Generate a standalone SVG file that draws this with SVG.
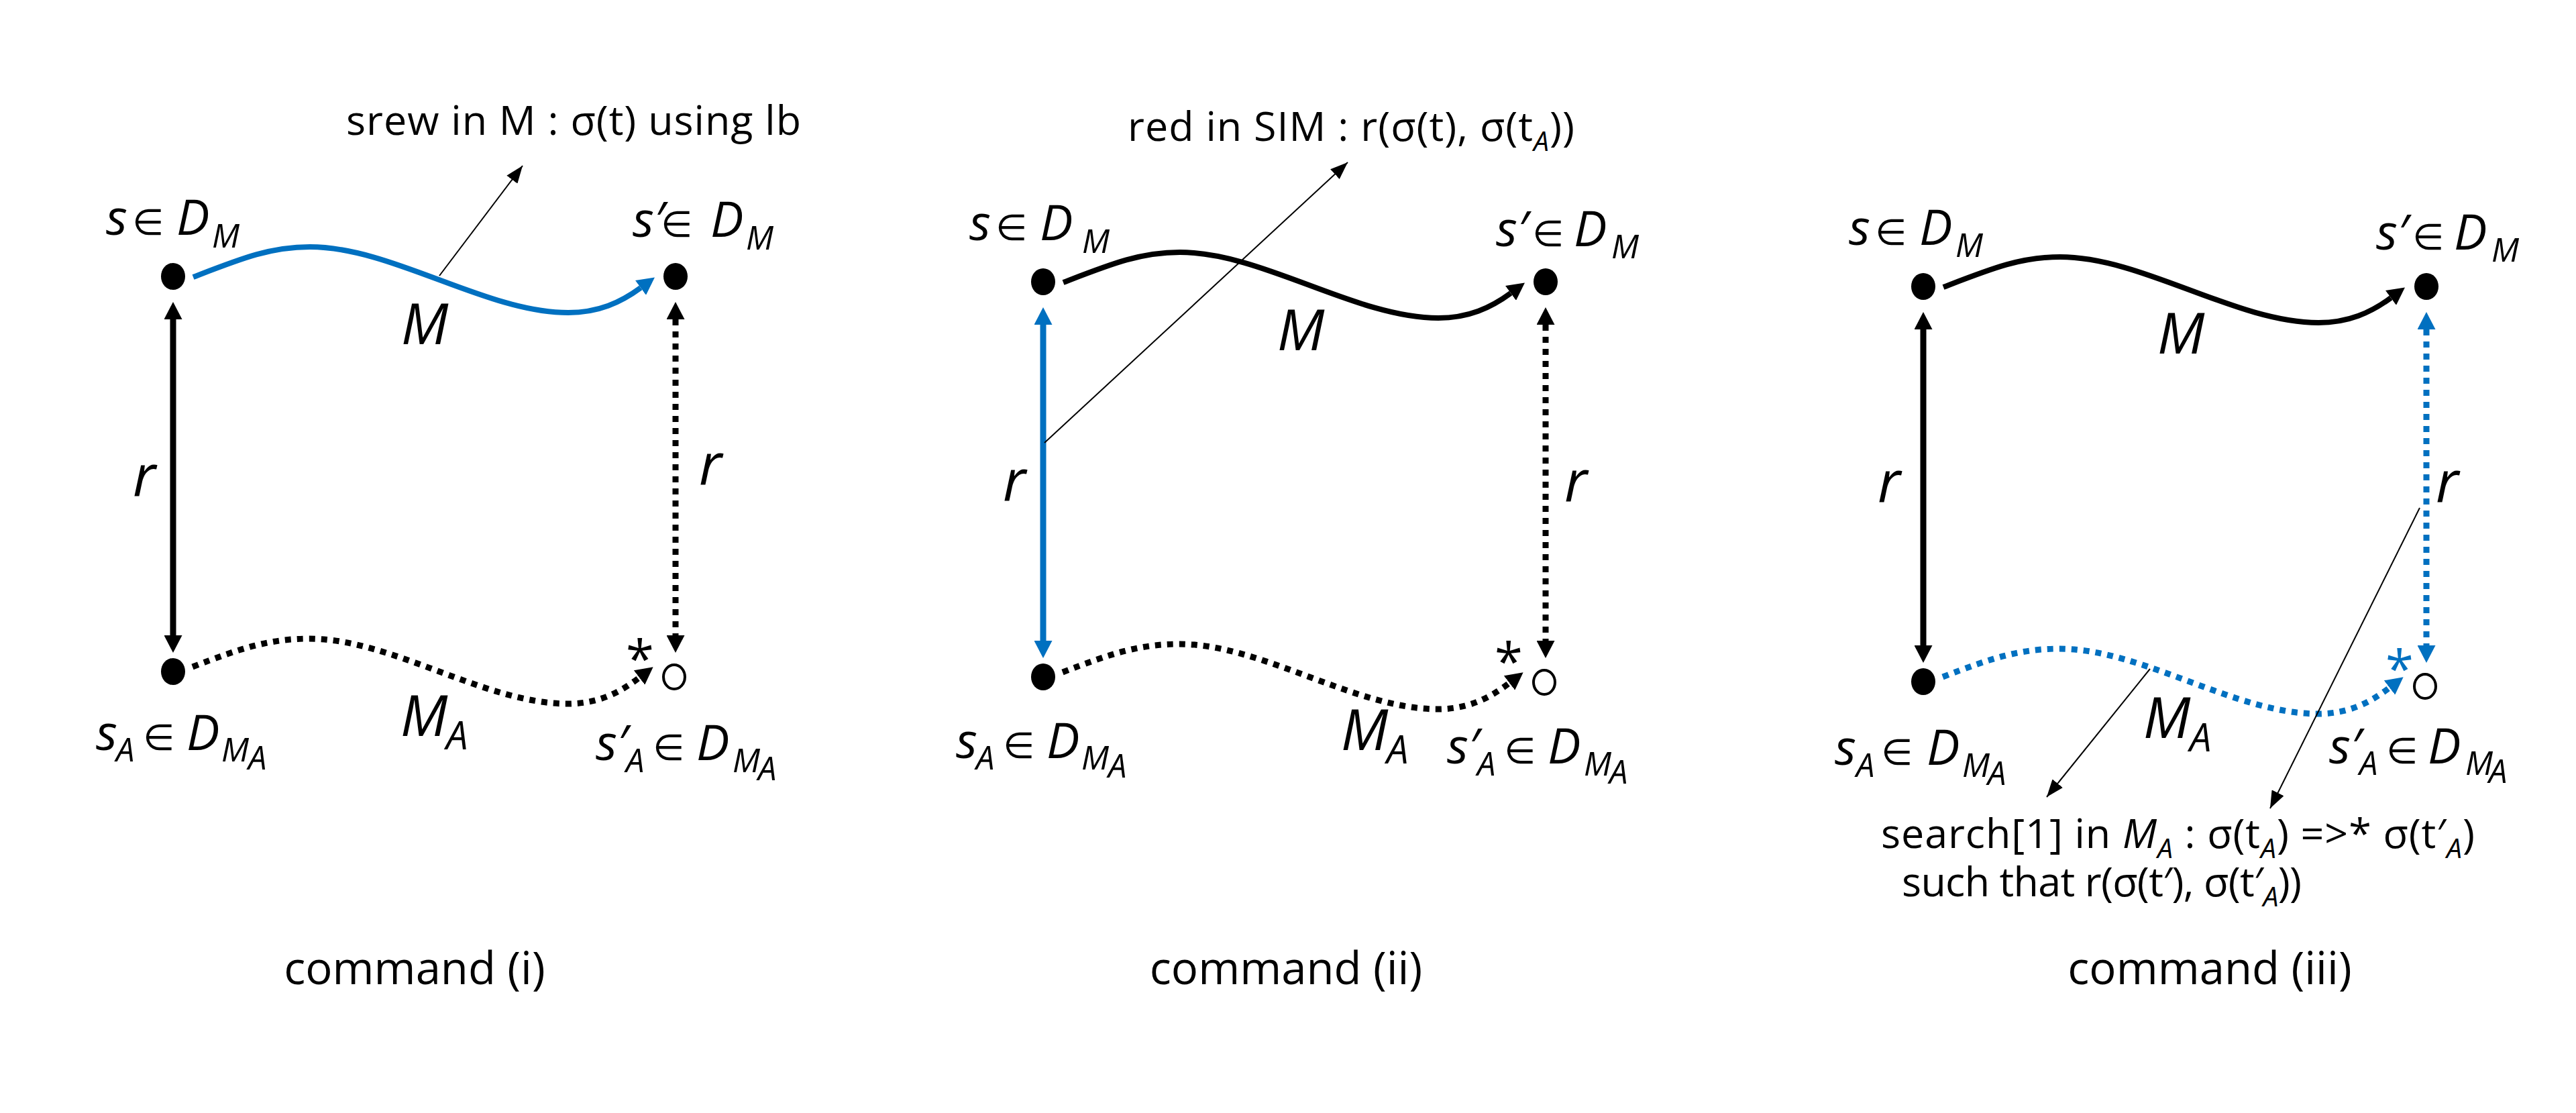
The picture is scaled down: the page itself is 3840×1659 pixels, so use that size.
<svg xmlns="http://www.w3.org/2000/svg" width="3840" height="1659" viewBox="0 0 3840 1659">
<style>
.dot{fill:#000}
.open{fill:#fff;stroke:#000;stroke-width:4}
.ln{fill:none;stroke:#000;stroke-width:9}
.cv{fill:none;stroke:#000;stroke-width:8}
.dt{fill:none;stroke:#000;stroke-width:9;stroke-dasharray:9 9}
.b{stroke:#0070C0}
.ann{fill:none;stroke:#000;stroke-width:2}
text{font-family:"Open Sans","Noto Sans","DejaVu Sans",sans-serif;fill:#000}
.m{font-style:italic;font-size:74px}
.e{font-family:"DejaVu Sans",sans-serif;font-size:54px}
.s{font-size:49px}
.big{font-style:italic;font-size:84px}
.bs{font-size:58px}
.r{font-style:italic;font-size:86px}
.star{font-size:76px}
.note{font-size:61px}
.it{font-style:italic}
.ns{font-style:italic;font-size:41px}
.cmd{font-size:67px}
.bt{fill:#0070C0}
</style>
<defs>
<marker id="ah" markerUnits="userSpaceOnUse" markerWidth="26" markerHeight="27" refX="0" refY="13.5" orient="auto-start-reverse" viewBox="0 0 26 27"><path d="M0,0L26,13.5L0,27z" fill="#000"/></marker>
<marker id="ahb" markerUnits="userSpaceOnUse" markerWidth="26" markerHeight="27" refX="0" refY="13.5" orient="auto-start-reverse" viewBox="0 0 26 27"><path d="M0,0L26,13.5L0,27z" fill="#0070C0"/></marker>
<marker id="at" markerUnits="userSpaceOnUse" markerWidth="26" markerHeight="20" refX="26" refY="10" orient="auto" viewBox="0 0 26 20"><path d="M0,0L26,10L0,20z" fill="#000"/></marker>
</defs>
<rect width="3840" height="1659" fill="#fff"/>

<!-- Panel 1 -->
<g id="panel1">
<g id="p1-connectors">
<path class="cv b" d="M288,413 C358,386 402,368 462,368 C585,368 724,466 847,466 C892,466 925,451 955,429" marker-end="url(#ahb)"/>
<path class="dt" d="M287,994 C357,967 401,952 461,952 C584,952 723,1049 846,1049 C891,1049 923,1033 953,1010" marker-end="url(#ah)"/>
<path class="ln" d="M258,476 V947" marker-start="url(#ah)" marker-end="url(#ah)"/>
<path class="dt" d="M1007,476 V947" marker-start="url(#ah)" marker-end="url(#ah)"/>
<path class="ann" d="M655,411 L779,247" marker-end="url(#at)"/>
</g>
<g id="p1-s"><ellipse class="dot" cx="258" cy="412" rx="18" ry="20"/><text class="m" x="158" y="350">s<tspan class="e" x="197">∈</tspan><tspan x="263">D</tspan><tspan class="s" x="316" y="369">M</tspan></text></g>
<g id="p1-s2"><ellipse class="dot" cx="1007" cy="412" rx="18" ry="20"/><text class="m" x="943" y="353">s′<tspan class="e" x="985">∈</tspan><tspan x="1059">D</tspan><tspan class="s" x="1112" y="372">M</tspan></text></g>
<g id="p1-sA"><ellipse class="dot" cx="258" cy="1001" rx="18" ry="20"/><text class="m" x="143" y="1118">s<tspan class="s" x="173" y="1135">A</tspan><tspan class="e" x="213" y="1118">∈</tspan><tspan x="278">D</tspan><tspan class="s" x="330" y="1135">M</tspan><tspan class="s" x="370" y="1147">A</tspan></text></g>
<g id="p1-sA2"><ellipse class="open" cx="1005" cy="1009" rx="16" ry="18"/><text class="star" x="933" y="1010">*</text><text class="m" x="888" y="1133">s′<tspan class="s" x="933" y="1151">A</tspan><tspan class="e" x="973" y="1133">∈</tspan><tspan x="1038">D</tspan><tspan class="s" x="1092" y="1151">M</tspan><tspan class="s" x="1130" y="1163">A</tspan></text></g>
<g id="p1-labels">
<text class="big" x="598" y="513">M</text>
<text class="big" x="597" y="1097">M<tspan class="bs" x="665" y="1117">A</tspan></text>
<text class="r" x="198" y="740">r</text>
<text class="r" x="1042" y="723">r</text>
<text class="note" x="516" y="201" textLength="678" lengthAdjust="spacing">srew in M : σ(t) using lb</text>
</g>
</g>

<!-- Panel 2 -->
<g id="panel2" transform="translate(1297,8)">
<g id="p2-connectors">
<path class="cv" d="M288,413 C358,386 402,368 462,368 C585,368 724,466 847,466 C892,466 925,451 955,429" marker-end="url(#ah)"/>
<path class="dt" d="M287,994 C357,967 401,952 461,952 C584,952 723,1049 846,1049 C891,1049 923,1033 953,1010" marker-end="url(#ah)"/>
<path class="ln b" d="M258,476 V947" marker-start="url(#ahb)" marker-end="url(#ahb)"/>
<path class="dt" d="M1007,476 V947" marker-start="url(#ah)" marker-end="url(#ah)"/>
<path class="ann" d="M260,652 L712,234" marker-end="url(#at)"/>
</g>
<g id="p2-s"><ellipse class="dot" cx="258" cy="412" rx="18" ry="20"/><text class="m" x="148" y="350">s<tspan class="e" x="187">∈</tspan><tspan x="253">D</tspan><tspan class="s" x="316" y="369">M</tspan></text></g>
<g id="p2-s2"><ellipse class="dot" cx="1007" cy="412" rx="18" ry="20"/><text class="m" x="933" y="359">s′<tspan class="e" x="987">∈</tspan><tspan x="1049">D</tspan><tspan class="s" x="1105" y="377">M</tspan></text></g>
<g id="p2-sA"><ellipse class="dot" cx="258" cy="1001" rx="18" ry="20"/><text class="m" x="128" y="1122">s<tspan class="s" x="158" y="1139">A</tspan><tspan class="e" x="198" y="1122">∈</tspan><tspan x="263">D</tspan><tspan class="s" x="315" y="1139">M</tspan><tspan class="s" x="355" y="1151">A</tspan></text></g>
<g id="p2-sA2"><ellipse class="open" cx="1005" cy="1009" rx="16" ry="18"/><text class="star" x="931" y="1006">*</text><text class="m" x="860" y="1130">s′<tspan class="s" x="905" y="1148">A</tspan><tspan class="e" x="945" y="1130">∈</tspan><tspan x="1010">D</tspan><tspan class="s" x="1064" y="1148">M</tspan><tspan class="s" x="1102" y="1160">A</tspan></text></g>
<g id="p2-labels">
<text class="big" x="607" y="514">M</text>
<text class="big" x="702" y="1110">M<tspan class="bs" x="770" y="1130">A</tspan></text>
<text class="r" x="198" y="739">r</text>
<text class="r" x="1035" y="740">r</text>
<text class="note" x="384" y="202" textLength="666" lengthAdjust="spacing">red in SIM : r(σ(t), σ(t<tspan class="ns" dy="15">A</tspan><tspan dy="-15">))</tspan></text>
</g>
</g>

<!-- Panel 3 -->
<g id="panel3" transform="translate(2609,15)">
<g id="p3-connectors">
<path class="cv" d="M288,413 C358,386 402,368 462,368 C585,368 724,466 847,466 C892,466 925,451 955,429" marker-end="url(#ah)"/>
<path class="dt b" d="M287,994 C357,967 401,952 461,952 C584,952 723,1049 846,1049 C891,1049 923,1033 953,1010" marker-end="url(#ahb)"/>
<path class="ln" d="M258,476 V947" marker-start="url(#ah)" marker-end="url(#ah)"/>
<path class="dt b" d="M1008,476 V947" marker-start="url(#ahb)" marker-end="url(#ahb)"/>
<path class="ann" d="M596,982 L442,1173" marker-end="url(#at)"/>
<path class="ann" d="M998,742 L775,1190" marker-end="url(#at)"/>
</g>
<g id="p3-s"><ellipse class="dot" cx="258" cy="412" rx="18" ry="20"/><text class="m" x="147" y="350">s<tspan class="e" x="186">∈</tspan><tspan x="252">D</tspan><tspan class="s" x="306" y="368">M</tspan></text></g>
<g id="p3-s2"><ellipse class="dot" cx="1008" cy="412" rx="18" ry="20"/><text class="m" x="933" y="357">s′<tspan class="e" x="987">∈</tspan><tspan x="1049">D</tspan><tspan class="s" x="1105" y="375">M</tspan></text></g>
<g id="p3-sA"><ellipse class="dot" cx="258" cy="1001" rx="18" ry="20"/><text class="m" x="126" y="1125">s<tspan class="s" x="158" y="1143">A</tspan><tspan class="e" x="195" y="1125">∈</tspan><tspan x="263">D</tspan><tspan class="s" x="316" y="1143">M</tspan><tspan class="s" x="354" y="1155">A</tspan></text></g>
<g id="p3-sA2"><ellipse class="open" cx="1006" cy="1008" rx="16" ry="18"/><text class="star bt" x="947" y="1010">*</text><text class="m" x="863" y="1123">s′<tspan class="s" x="908" y="1140">A</tspan><tspan class="e" x="948" y="1123">∈</tspan><tspan x="1010">D</tspan><tspan class="s" x="1066" y="1140">M</tspan><tspan class="s" x="1101" y="1152">A</tspan></text></g>
<g id="p3-labels">
<text class="big" x="607" y="512">M</text>
<text class="big" x="586" y="1085">M<tspan class="bs" x="655" y="1105">A</tspan></text>
<text class="r" x="190" y="734">r</text>
<text class="r" x="1022" y="734">r</text>
<text class="note" x="195" y="1249" textLength="885" lengthAdjust="spacing">search[1] in <tspan class="it">M</tspan><tspan class="ns" dy="15">A</tspan><tspan dy="-15"> : σ(t</tspan><tspan class="ns" dy="15">A</tspan><tspan dy="-15">) =&gt;* σ(t′</tspan><tspan class="ns" dy="15">A</tspan><tspan dy="-15">)</tspan></text>
<text class="note" x="226" y="1321" textLength="596" lengthAdjust="spacing">such that r(σ(t′), σ(t′<tspan class="ns" dy="15">A</tspan><tspan dy="-15">))</tspan></text>
</g>
</g>

<g id="captions">
<text class="cmd" x="618" y="1467" text-anchor="middle">command (i)</text>
<text class="cmd" x="1917" y="1467" text-anchor="middle">command (ii)</text>
<text class="cmd" x="3294" y="1467" text-anchor="middle">command (iii)</text>
</g>
</svg>
